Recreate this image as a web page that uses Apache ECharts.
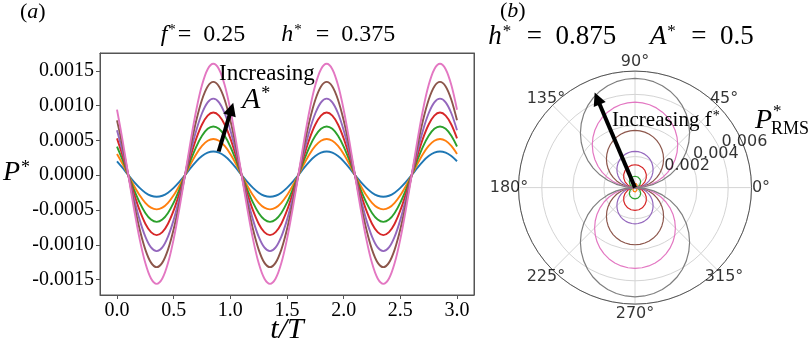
<!DOCTYPE html>
<html><head><meta charset="utf-8">
<script src="https://cdn.jsdelivr.net/npm/echarts@6/dist/echarts.min.js"></script>
<style>html,body{margin:0;padding:0;background:#fff}#c{width:811px;height:346px}</style>
</head><body><div id="c"></div>
<script>
// ---------- Panel (a): P* vs t/T ----------
const tValues = [0,0.05,0.1,0.15,0.2,0.25,0.3,0.35,0.4,0.45,0.5,0.55,0.6,0.65,0.7,0.75,0.8,0.85,0.9,0.95,
  1,1.05,1.1,1.15,1.2,1.25,1.3,1.35,1.4,1.45,1.5,1.55,1.6,1.65,1.7,1.75,1.8,1.85,1.9,1.95,
  2,2.05,2.1,2.15,2.2,2.25,2.3,2.35,2.4,2.45,2.5,2.55,2.6,2.65,2.7,2.75,2.8,2.85,2.9,2.95,3];

const pBlue = [2.0e-4,1.05e-4,0,-0.96e-4,-1.82e-4,-2.51e-4,-2.95e-4,-3.1e-4,-2.95e-4,-2.51e-4,-1.82e-4,-0.96e-4,0,1.05e-4,2.0e-4,2.75e-4,3.23e-4,3.4e-4,3.23e-4,2.75e-4,
  2.0e-4,1.05e-4,0,-0.96e-4,-1.82e-4,-2.51e-4,-2.95e-4,-3.1e-4,-2.95e-4,-2.51e-4,-1.82e-4,-0.96e-4,0,1.05e-4,2.0e-4,2.75e-4,3.23e-4,3.4e-4,3.23e-4,2.75e-4,
  2.0e-4,1.05e-4,0,-0.96e-4,-1.82e-4,-2.51e-4,-2.95e-4,-3.1e-4,-2.95e-4,-2.51e-4,-1.82e-4,-0.96e-4,0,1.05e-4,2.0e-4,2.75e-4,3.23e-4,3.4e-4,3.23e-4,2.75e-4,2.0e-4];
const pOrange = [3.06e-4,1.61e-4,0,-1.51e-4,-2.88e-4,-3.96e-4,-4.66e-4,-4.9e-4,-4.66e-4,-3.96e-4,-2.88e-4,-1.51e-4,0,1.61e-4,3.06e-4,4.21e-4,4.95e-4,5.2e-4,4.95e-4,4.21e-4,
  3.06e-4,1.61e-4,0,-1.51e-4,-2.88e-4,-3.96e-4,-4.66e-4,-4.9e-4,-4.66e-4,-3.96e-4,-2.88e-4,-1.51e-4,0,1.61e-4,3.06e-4,4.21e-4,4.95e-4,5.2e-4,4.95e-4,4.21e-4,
  3.06e-4,1.61e-4,0,-1.51e-4,-2.88e-4,-3.96e-4,-4.66e-4,-4.9e-4,-4.66e-4,-3.96e-4,-2.88e-4,-1.51e-4,0,1.61e-4,3.06e-4,4.21e-4,4.95e-4,5.2e-4,4.95e-4,4.21e-4,3.06e-4];
const pGreen = [4.12e-4,2.16e-4,0,-2.07e-4,-3.94e-4,-5.42e-4,-6.37e-4,-6.7e-4,-6.37e-4,-5.42e-4,-3.94e-4,-2.07e-4,0,2.16e-4,4.12e-4,5.66e-4,6.66e-4,7.0e-4,6.66e-4,5.66e-4,
  4.12e-4,2.16e-4,0,-2.07e-4,-3.94e-4,-5.42e-4,-6.37e-4,-6.7e-4,-6.37e-4,-5.42e-4,-3.94e-4,-2.07e-4,0,2.16e-4,4.12e-4,5.66e-4,6.66e-4,7.0e-4,6.66e-4,5.66e-4,
  4.12e-4,2.16e-4,0,-2.07e-4,-3.94e-4,-5.42e-4,-6.37e-4,-6.7e-4,-6.37e-4,-5.42e-4,-3.94e-4,-2.07e-4,0,2.16e-4,4.12e-4,5.66e-4,6.66e-4,7.0e-4,6.66e-4,5.66e-4,4.12e-4];
const pRed = [5.29e-4,2.78e-4,0,-2.66e-4,-5.06e-4,-6.96e-4,-8.18e-4,-8.6e-4,-8.18e-4,-6.96e-4,-5.06e-4,-2.66e-4,0,2.78e-4,5.29e-4,7.28e-4,8.56e-4,9.0e-4,8.56e-4,7.28e-4,
  5.29e-4,2.78e-4,0,-2.66e-4,-5.06e-4,-6.96e-4,-8.18e-4,-8.6e-4,-8.18e-4,-6.96e-4,-5.06e-4,-2.66e-4,0,2.78e-4,5.29e-4,7.28e-4,8.56e-4,9.0e-4,8.56e-4,7.28e-4,
  5.29e-4,2.78e-4,0,-2.66e-4,-5.06e-4,-6.96e-4,-8.18e-4,-8.6e-4,-8.18e-4,-6.96e-4,-5.06e-4,-2.66e-4,0,2.78e-4,5.29e-4,7.28e-4,8.56e-4,9.0e-4,8.56e-4,7.28e-4,5.29e-4];
const pPurple = [6.47e-4,3.4e-4,0,-3.37e-4,-6.41e-4,-8.82e-4,-10.37e-4,-10.9e-4,-10.37e-4,-8.82e-4,-6.41e-4,-3.37e-4,0,3.4e-4,6.47e-4,8.9e-4,10.46e-4,11.0e-4,10.46e-4,8.9e-4,
  6.47e-4,3.4e-4,0,-3.37e-4,-6.41e-4,-8.82e-4,-10.37e-4,-10.9e-4,-10.37e-4,-8.82e-4,-6.41e-4,-3.37e-4,0,3.4e-4,6.47e-4,8.9e-4,10.46e-4,11.0e-4,10.46e-4,8.9e-4,
  6.47e-4,3.4e-4,0,-3.37e-4,-6.41e-4,-8.82e-4,-10.37e-4,-10.9e-4,-10.37e-4,-8.82e-4,-6.41e-4,-3.37e-4,0,3.4e-4,6.47e-4,8.9e-4,10.46e-4,11.0e-4,10.46e-4,8.9e-4,6.47e-4];
const pBrown = [7.88e-4,4.14e-4,0,-4.08e-4,-7.76e-4,-10.68e-4,-12.55e-4,-13.2e-4,-12.55e-4,-10.68e-4,-7.76e-4,-4.08e-4,0,4.14e-4,7.88e-4,10.84e-4,12.74e-4,13.4e-4,12.74e-4,10.84e-4,
  7.88e-4,4.14e-4,0,-4.08e-4,-7.76e-4,-10.68e-4,-12.55e-4,-13.2e-4,-12.55e-4,-10.68e-4,-7.76e-4,-4.08e-4,0,4.14e-4,7.88e-4,10.84e-4,12.74e-4,13.4e-4,12.74e-4,10.84e-4,
  7.88e-4,4.14e-4,0,-4.08e-4,-7.76e-4,-10.68e-4,-12.55e-4,-13.2e-4,-12.55e-4,-10.68e-4,-7.76e-4,-4.08e-4,0,4.14e-4,7.88e-4,10.84e-4,12.74e-4,13.4e-4,12.74e-4,10.84e-4,7.88e-4];
const pPink = [9.41e-4,4.94e-4,0,-4.82e-4,-9.17e-4,-12.62e-4,-14.84e-4,-15.6e-4,-14.84e-4,-12.62e-4,-9.17e-4,-4.82e-4,0,4.94e-4,9.41e-4,12.94e-4,15.22e-4,16.0e-4,15.22e-4,12.94e-4,
  9.41e-4,4.94e-4,0,-4.82e-4,-9.17e-4,-12.62e-4,-14.84e-4,-15.6e-4,-14.84e-4,-12.62e-4,-9.17e-4,-4.82e-4,0,4.94e-4,9.41e-4,12.94e-4,15.22e-4,16.0e-4,15.22e-4,12.94e-4,
  9.41e-4,4.94e-4,0,-4.82e-4,-9.17e-4,-12.62e-4,-14.84e-4,-15.6e-4,-14.84e-4,-12.62e-4,-9.17e-4,-4.82e-4,0,4.94e-4,9.41e-4,12.94e-4,15.22e-4,16.0e-4,15.22e-4,12.94e-4,9.41e-4];

const xTicks = [0, 0.5, 1.0, 1.5, 2.0, 2.5, 3.0];
const yTicks = [-0.0015, -0.0010, -0.0005, 0, 0.0005, 0.0010, 0.0015];
const arrowA = [[0.897, 0.00034], [1.009, 0.00095]];

// ---------- Panel (b): polar P*_RMS (radius, every 5 degrees from 0 to 360) ----------
const angles = [0,5,10,15,20,25,30,35,40,45,50,55,60,65,70,75,80,85,90,95,100,105,110,115,120,125,130,135,140,145,150,155,160,165,170,175,180,
  185,190,195,200,205,210,215,220,225,230,235,240,245,250,255,260,265,270,275,280,285,290,295,300,305,310,315,320,325,330,335,340,345,350,355,360];
const rBlue = [0,.0052e-3,.0104e-3,.0155e-3,.0205e-3,.0254e-3,.03e-3,.0344e-3,.0386e-3,.0424e-3,.046e-3,.0491e-3,.052e-3,.0544e-3,.0564e-3,.058e-3,.0591e-3,.0598e-3,.06e-3,
  .0598e-3,.0591e-3,.058e-3,.0564e-3,.0544e-3,.052e-3,.0491e-3,.046e-3,.0424e-3,.0386e-3,.0344e-3,.03e-3,.0254e-3,.0205e-3,.0155e-3,.0104e-3,.0052e-3,0,
  .0052e-3,.0104e-3,.0155e-3,.0205e-3,.0254e-3,.03e-3,.0344e-3,.0386e-3,.0424e-3,.046e-3,.0491e-3,.052e-3,.0544e-3,.0564e-3,.058e-3,.0591e-3,.0598e-3,.06e-3,
  .0598e-3,.0591e-3,.058e-3,.0564e-3,.0544e-3,.052e-3,.0491e-3,.046e-3,.0424e-3,.0386e-3,.0344e-3,.03e-3,.0254e-3,.0205e-3,.0155e-3,.0104e-3,.0052e-3,0];
const rOrange = [0,.0244e-3,.0486e-3,.0725e-3,.0958e-3,.1183e-3,.14e-3,.1606e-3,.18e-3,.198e-3,.2145e-3,.2294e-3,.2425e-3,.2538e-3,.2631e-3,.2705e-3,.2757e-3,.2789e-3,.28e-3,
  .2789e-3,.2757e-3,.2705e-3,.2631e-3,.2538e-3,.2425e-3,.2294e-3,.2145e-3,.198e-3,.18e-3,.1606e-3,.14e-3,.1183e-3,.0958e-3,.0725e-3,.0486e-3,.0244e-3,0,
  .0244e-3,.0486e-3,.0725e-3,.0958e-3,.1183e-3,.14e-3,.1606e-3,.18e-3,.198e-3,.2145e-3,.2294e-3,.2425e-3,.2538e-3,.2631e-3,.2705e-3,.2757e-3,.2789e-3,.28e-3,
  .2789e-3,.2757e-3,.2705e-3,.2631e-3,.2538e-3,.2425e-3,.2294e-3,.2145e-3,.198e-3,.18e-3,.1606e-3,.14e-3,.1183e-3,.0958e-3,.0725e-3,.0486e-3,.0244e-3,0];
const rGreen = [0,.0636e-3,.1268e-3,.1889e-3,.2497e-3,.3085e-3,.365e-3,.4187e-3,.4692e-3,.5162e-3,.5592e-3,.598e-3,.6322e-3,.6616e-3,.686e-3,.7051e-3,.7189e-3,.7272e-3,.73e-3,
  .7272e-3,.7189e-3,.7051e-3,.686e-3,.6616e-3,.6322e-3,.598e-3,.5592e-3,.5162e-3,.4692e-3,.4187e-3,.365e-3,.3085e-3,.2497e-3,.1889e-3,.1268e-3,.0636e-3,0,
  .0636e-3,.1268e-3,.1889e-3,.2497e-3,.3085e-3,.365e-3,.4187e-3,.4692e-3,.5162e-3,.5592e-3,.598e-3,.6322e-3,.6616e-3,.686e-3,.7051e-3,.7189e-3,.7272e-3,.73e-3,
  .7272e-3,.7189e-3,.7051e-3,.686e-3,.6616e-3,.6322e-3,.598e-3,.5592e-3,.5162e-3,.4692e-3,.4187e-3,.365e-3,.3085e-3,.2497e-3,.1889e-3,.1268e-3,.0636e-3,0];
const rRed = [0,.1281e-3,.2553e-3,.3805e-3,.5028e-3,.6213e-3,.735e-3,.8432e-3,.9449e-3,1.0395e-3,1.1261e-3,1.2042e-3,1.2731e-3,1.3323e-3,1.3813e-3,1.4199e-3,1.4477e-3,1.4644e-3,1.47e-3,
  1.4644e-3,1.4477e-3,1.4199e-3,1.3813e-3,1.3323e-3,1.2731e-3,1.2042e-3,1.1261e-3,1.0395e-3,.9449e-3,.8432e-3,.735e-3,.6213e-3,.5028e-3,.3805e-3,.2553e-3,.1281e-3,0,
  .1281e-3,.2553e-3,.3805e-3,.5028e-3,.6213e-3,.735e-3,.8432e-3,.9449e-3,1.0395e-3,1.1261e-3,1.2042e-3,1.2731e-3,1.3323e-3,1.3813e-3,1.4199e-3,1.4477e-3,1.4644e-3,1.47e-3,
  1.4644e-3,1.4477e-3,1.4199e-3,1.3813e-3,1.3323e-3,1.2731e-3,1.2042e-3,1.1261e-3,1.0395e-3,.9449e-3,.8432e-3,.735e-3,.6213e-3,.5028e-3,.3805e-3,.2553e-3,.1281e-3,0];
const rPurple = [0,.2031e-3,.4046e-3,.6031e-3,.7969e-3,.9847e-3,1.165e-3,1.3364e-3,1.4977e-3,1.6476e-3,1.7849e-3,1.9086e-3,2.0178e-3,2.1117e-3,2.1895e-3,2.2506e-3,2.2946e-3,2.3211e-3,2.33e-3,
  2.3211e-3,2.2946e-3,2.2506e-3,2.1895e-3,2.1117e-3,2.0178e-3,1.9086e-3,1.7849e-3,1.6476e-3,1.4977e-3,1.3364e-3,1.165e-3,.9847e-3,.7969e-3,.6031e-3,.4046e-3,.2031e-3,0,
  .2031e-3,.4046e-3,.6031e-3,.7969e-3,.9847e-3,1.165e-3,1.3364e-3,1.4977e-3,1.6476e-3,1.7849e-3,1.9086e-3,2.0178e-3,2.1117e-3,2.1895e-3,2.2506e-3,2.2946e-3,2.3211e-3,2.33e-3,
  2.3211e-3,2.2946e-3,2.2506e-3,2.1895e-3,2.1117e-3,2.0178e-3,1.9086e-3,1.7849e-3,1.6476e-3,1.4977e-3,1.3364e-3,1.165e-3,.9847e-3,.7969e-3,.6031e-3,.4046e-3,.2031e-3,0];
const rBrown = [0,.3207e-3,.639e-3,.9525e-3,1.2586e-3,1.5552e-3,1.84e-3,2.1108e-3,2.3655e-3,2.6022e-3,2.819e-3,3.0145e-3,3.187e-3,3.3352e-3,3.4581e-3,3.5546e-3,3.6241e-3,3.666e-3,3.68e-3,
  3.666e-3,3.6241e-3,3.5546e-3,3.4581e-3,3.3352e-3,3.187e-3,3.0145e-3,2.819e-3,2.6022e-3,2.3655e-3,2.1108e-3,1.84e-3,1.5552e-3,1.2586e-3,.9525e-3,.639e-3,.3207e-3,0,
  .3207e-3,.639e-3,.9525e-3,1.2586e-3,1.5552e-3,1.84e-3,2.1108e-3,2.3655e-3,2.6022e-3,2.819e-3,3.0145e-3,3.187e-3,3.3352e-3,3.4581e-3,3.5546e-3,3.6241e-3,3.666e-3,3.68e-3,
  3.666e-3,3.6241e-3,3.5546e-3,3.4581e-3,3.3352e-3,3.187e-3,3.0145e-3,2.819e-3,2.6022e-3,2.3655e-3,2.1108e-3,1.84e-3,1.5552e-3,1.2586e-3,.9525e-3,.639e-3,.3207e-3,0];
const rPink = [0,.4794e-3,.9551e-3,1.4235e-3,1.8811e-3,2.3244e-3,2.75e-3,3.1547e-3,3.5353e-3,3.8891e-3,4.2132e-3,4.5053e-3,4.7632e-3,4.9847e-3,5.1683e-3,5.3126e-3,5.4165e-3,5.479e-3,5.5e-3,
  5.479e-3,5.4165e-3,5.3126e-3,5.1683e-3,4.9847e-3,4.7632e-3,4.5053e-3,4.2132e-3,3.8891e-3,3.5353e-3,3.1547e-3,2.75e-3,2.3244e-3,1.8811e-3,1.4235e-3,.9551e-3,.4794e-3,0,
  .4532e-3,.903e-3,1.3459e-3,1.7785e-3,2.1976e-3,2.6e-3,2.9826e-3,3.3425e-3,3.677e-3,3.9834e-3,4.2596e-3,4.5034e-3,4.7128e-3,4.8864e-3,5.0228e-3,5.121e-3,5.1802e-3,5.2e-3,
  5.1802e-3,5.121e-3,5.0228e-3,4.8864e-3,4.7128e-3,4.5034e-3,4.2596e-3,3.9834e-3,3.677e-3,3.3425e-3,2.9826e-3,2.6e-3,2.1976e-3,1.7785e-3,1.3459e-3,.903e-3,.4532e-3,0];
const rGray = [0,.6127e-3,1.2208e-3,1.8195e-3,2.4044e-3,2.971e-3,3.515e-3,4.0323e-3,4.5188e-3,4.971e-3,5.3853e-3,5.7586e-3,6.0882e-3,6.3714e-3,6.606e-3,6.7905e-3,6.9232e-3,7.0032e-3,7.03e-3,
  7.0032e-3,6.9232e-3,6.7905e-3,6.606e-3,6.3714e-3,6.0882e-3,5.7586e-3,5.3853e-3,4.971e-3,4.5188e-3,4.0323e-3,3.515e-3,2.971e-3,2.4044e-3,1.8195e-3,1.2208e-3,.6127e-3,0,
  .6127e-3,1.2208e-3,1.8195e-3,2.4044e-3,2.971e-3,3.515e-3,4.0323e-3,4.5188e-3,4.971e-3,5.3853e-3,5.7586e-3,6.0882e-3,6.3714e-3,6.606e-3,6.7905e-3,6.9232e-3,7.0032e-3,7.03e-3,
  7.0032e-3,6.9232e-3,6.7905e-3,6.606e-3,6.3714e-3,6.0882e-3,5.7586e-3,5.3853e-3,4.971e-3,4.5188e-3,4.0323e-3,3.515e-3,2.971e-3,2.4044e-3,1.8195e-3,1.2208e-3,.6127e-3,0];

const angleTicks = [0, 45, 90, 135, 180, 225, 270, 315];
const radiusTicks = [0.002, 0.004, 0.006];
const radiusLabelAngle = 22.5;
const arrowB = { r: 0.00623, angle: 113 };

// ---------- styling ----------
const C = {blue:'#1f77b4', orange:'#ff7f0e', green:'#2ca02c', red:'#d62728', purple:'#9467bd', brown:'#8c564b', pink:'#e377c2', gray:'#7f7f7f'};
const SERIF = '"Liberation Serif", "Times New Roman", serif';
const SANS = '"DejaVu Sans", sans-serif';

const timeSeries = [['blue',pBlue],['orange',pOrange],['green',pGreen],['red',pRed],['purple',pPurple],['brown',pBrown],['pink',pPink]];
const polarSeries = [['blue',rBlue],['orange',rOrange],['green',rGreen],['red',rRed],['purple',rPurple],['brown',rBrown],['pink',rPink],['gray',rGray]];

const series = [];
timeSeries.forEach(([name, vals]) => {
  series.push({
    type:'line', name, xAxisIndex:0, yAxisIndex:0,
    data: tValues.map((t,i)=>[t, vals[i]]),
    showSymbol:false, symbol:'none', smooth:0.33,
    lineStyle:{color:C[name], width:1.9}, itemStyle:{color:C[name]}, z:2
  });
});
// arrow in panel (a)
series.push({
  type:'line', name:'arrowA', xAxisIndex:0, yAxisIndex:0, z:6,
  symbol:'triangle', symbolSize:13, showSymbol:true,
  data:[{value:arrowA[0], symbolSize:0}, {value:arrowA[1], symbolRotate:-16.6}],
  lineStyle:{color:'#000', width:4}, itemStyle:{color:'#000'}
});
polarSeries.forEach(([name, vals]) => {
  series.push({
    type:'line', name:'p_'+name, coordinateSystem:'polar', polarIndex:0,
    data: angles.map((a,i)=>[vals[i], a]),
    showSymbol:false, symbol:'none', smooth:false,
    lineStyle:{color:C[name], width:1.2}, z:2
  });
});
// arrow in polar
series.push({
  type:'line', name:'arrowB', coordinateSystem:'polar', polarIndex:0, z:6,
  symbol:'triangle', symbolSize:13, showSymbol:true,
  data:[{value:[0, arrowB.angle], symbolSize:0}, {value:[arrowB.r, arrowB.angle], symbolRotate: arrowB.angle-90}],
  lineStyle:{color:'#000', width:4}, itemStyle:{color:'#000'}
});
// radius tick labels at 22.5 deg
series.push({
  type:'scatter', name:'rlabels', coordinateSystem:'polar', polarIndex:0, z:4,
  symbolSize:1, itemStyle:{color:'rgba(0,0,0,0)'},
  data: radiusTicks.map(r=>[r, radiusLabelAngle]),
  label:{show:true, position:'right', distance:0, offset:[0,-10], color:'#000',
    fontFamily:SANS, fontSize:16, formatter:p=>p.value[0].toFixed(3)}
});
// angle tick labels (centered on an outer ring)
series.push({
  type:'scatter', name:'alabels', coordinateSystem:'polar', polarIndex:1, z:4,
  symbolSize:1, itemStyle:{color:'rgba(0,0,0,0)'},
  data: angleTicks.map(a=>[1, a]),
  label:{show:true, position:'inside', color:'#000', fontFamily:SANS, fontSize:16,
    formatter:p=>p.value[1]+'°'}
});

function rtext(x, y, text, sizes, align) {
  const r = {
    i:{fontFamily:SERIF, fontStyle:'italic', fontSize:sizes[0], color:'#000'},
    n:{fontFamily:SERIF, fontSize:sizes[0], color:'#000'},
    s:{fontFamily:SERIF, fontSize:sizes[1], verticalAlign:'top', color:'#000', padding:[0,2,0,1]}
  };
  return {type:'text', x, y, z:100, silent:true,
    style:{text, rich:r, align:align||'left', verticalAlign:'middle', fill:'#000', fontFamily:SERIF, fontSize:sizes[0]}};
}

const frameAxis = {show:true, axisLine:{show:true, onZero:false, lineStyle:{color:'#555'}}, axisTick:{show:false}, axisLabel:{show:false}, splitLine:{show:false}};

const option = {
  animation:false,
  backgroundColor:'#fff',
  grid:{left:100, top:53, width:374, height:242, containLabel:false, outerBoundsMode:'none',
    show:true, borderColor:'#555', borderWidth:1, backgroundColor:'rgba(0,0,0,0)'},
  xAxis:[
    {type:'value', min:-0.15, max:3.15, gridIndex:0,
      name:'t/T', nameLocation:'middle', nameGap:20, nameMoveOverlap:false,
      nameTextStyle:{fontFamily:SERIF, fontStyle:'italic', fontSize:30, color:'#000'},
      axisLine:{onZero:false, lineStyle:{color:'#555'}}, splitLine:{show:false},
      axisTick:{show:true, length:4, customValues:xTicks, lineStyle:{color:'#555'}},
      axisLabel:{customValues:xTicks, margin:6, fontFamily:SERIF, fontSize:20, color:'#000', formatter:v=>Number(v).toFixed(1)}
    },
    Object.assign({type:'value', min:-0.15, max:3.15, gridIndex:0, position:'top'}, frameAxis)
  ],
  yAxis:[
    {type:'value', min:-0.00172, max:0.001755, gridIndex:0,
      axisLine:{show:true, onZero:false, lineStyle:{color:'#555'}}, splitLine:{show:false},
      axisTick:{show:true, length:4, customValues:yTicks, lineStyle:{color:'#555'}},
      axisLabel:{customValues:yTicks, margin:6, fontFamily:SERIF, fontSize:20, color:'#000', formatter:v=>Number(v).toFixed(4)}
    },
    Object.assign({type:'value', min:-0.00172, max:0.001755, gridIndex:0, position:'right'}, frameAxis)
  ],
  polar:[{center:[635,187.6], radius:116.5}, {center:[635,187.6], radius:126}],
  angleAxis:[
    {polarIndex:0, type:'value', min:0, max:360, interval:45, startAngle:0, clockwise:false,
      axisLine:{show:true, lineStyle:{color:'#555', width:1}}, axisTick:{show:false}, axisLabel:{show:false},
      splitLine:{show:true, lineStyle:{color:'#d4d4d4', width:1}}},
    {polarIndex:1, type:'value', min:0, max:360, startAngle:0, clockwise:false, show:false}
  ],
  radiusAxis:[
    {polarIndex:0, type:'value', min:0, max:0.0075, interval:0.002,
      axisLine:{show:false}, axisTick:{show:false}, axisLabel:{show:false},
      splitLine:{show:true, lineStyle:{color:'#d4d4d4', width:1}}},
    {polarIndex:1, type:'value', min:0, max:1, show:false}
  ],
  series,
  graphic:[
    rtext(20, 12, '{n|(}{i|a}{n|)}', [22,14]),
    rtext(278, 35, '{i|f}{s|*}{n|=  0.25      }{i|h}{s|*}{n|  =  0.375}', [24,15], 'center'),
    rtext(3, 173, '{i|P}{s|*}', [28,18]),
    rtext(219, 74, '{n|Increasing}', [23,14]),
    rtext(242, 100, '{i|A}{s|*}', [30,18]),
    rtext(500, 11, '{n|(}{i|b}{n|)}', [22,14]),
    rtext(621, 37, '{i|h}{s|*}{n|  =  0.875     }{i|A}{s|*}{n|  =  0.5}', [27,17], 'center'),
    rtext(612, 120, '{n|Increasing f}{s|*}', [21,14]),
    rtext(755, 121, '{i|P}', [28,18]),
    rtext(773, 112, '{n|*}', [17,17]),
    rtext(771, 129, '{n|RMS}', [18,18])
  ]
};
const chart = echarts.init(document.getElementById('c'), null, {renderer:'canvas'});
chart.setOption(option);
</script>
</body></html>
